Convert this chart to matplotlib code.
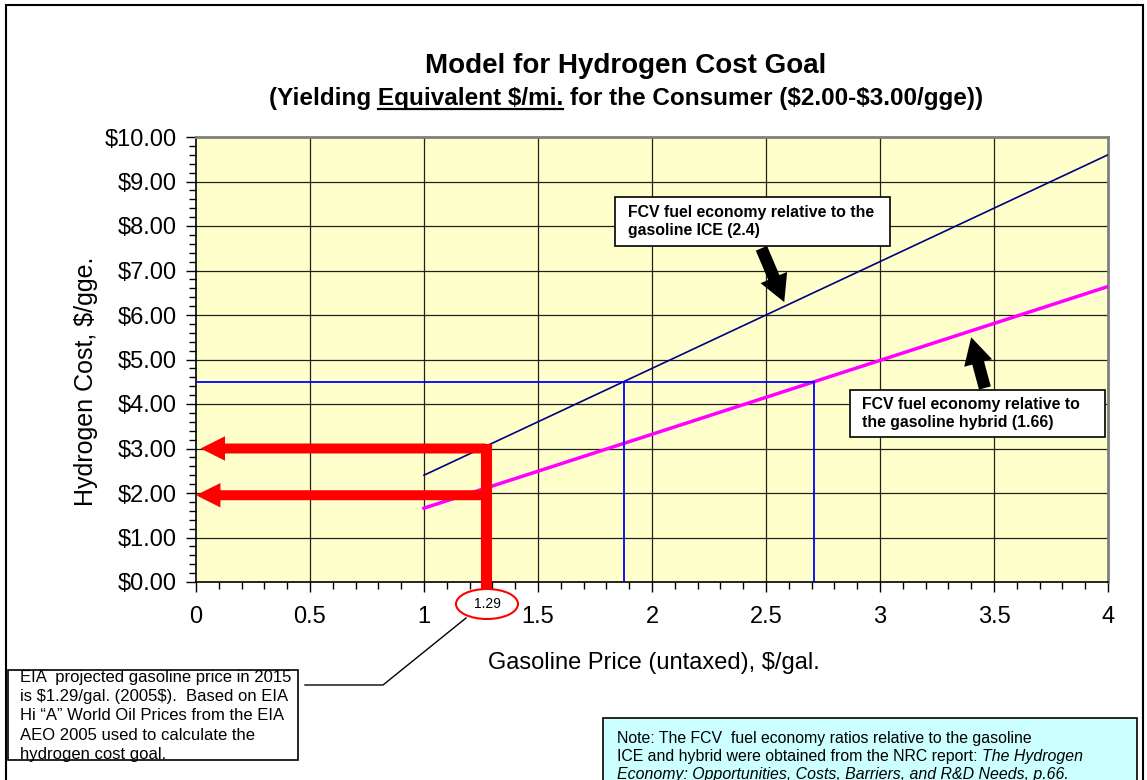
import numpy as np
import matplotlib
matplotlib.use("Agg")
import matplotlib.pyplot as plt
from matplotlib.patches import Ellipse, Rectangle
from matplotlib.lines import Line2D

plt.rcParams['font.family'] = ['Liberation Sans', 'DejaVu Sans']
plt.rcParams['text.parse_math'] = False

# data
gas_price = [1.0, 4.0]
ice_ratio = 2.4
hybrid_ratio = 1.66
h2_goal = 4.5                 # blue box level
eia_price = 1.27              # red vertical (labelled 1.29)
target_costs = [3.0, 1.95]    # red arrows
x_ticks = [0, 0.5, 1, 1.5, 2, 2.5, 3, 3.5, 4]
y_ticks = [0, 1, 2, 3, 4, 5, 6, 7, 8, 9, 10]

W, H = 1147, 780
fig = plt.figure(figsize=(W / 100, H / 100), dpi=100)


def fx(px):
    return px / W


def fy(py):
    return 1 - py / H


ax = fig.add_axes([fx(196), fy(582), fx(1108 - 196), (582 - 137) / H])
ax.set_facecolor('#FFFFCC')
ax.set_xlim(0, 4)
ax.set_ylim(0, 10)

# grid
for xv in x_ticks[1:-1]:
    ax.axvline(xv, color='#202020', lw=0.9, zorder=1)
for yv in y_ticks[1:-1]:
    ax.axhline(yv, color='#202020', lw=0.9, zorder=1)

ax.set_xticks(x_ticks)
ax.set_xticklabels([f"{v:g}" for v in x_ticks])
ax.set_yticks(y_ticks)
ax.set_yticklabels([f"${v:.2f}" for v in y_ticks])
ax.set_xticks(np.arange(0, 4.01, 0.1), minor=True)
ax.set_yticks(np.arange(0, 10.01, 0.2), minor=True)
ax.tick_params(which='major', direction='out', length=7, width=1, labelsize=17)
ax.tick_params(axis='x', which='major', pad=10)
ax.tick_params(axis='y', which='major', pad=7)
ax.tick_params(which='minor', direction='out', length=5, width=1)

for s in ['left', 'bottom']:
    ax.spines[s].set_color('black')
    ax.spines[s].set_linewidth(1.2)
for s in ['top', 'right']:
    ax.spines[s].set_color('#808080')
    ax.spines[s].set_linewidth(2)

ax.set_xlabel("Gasoline Price (untaxed), $/gal.", fontsize=17)
ax.set_ylabel("Hydrogen Cost, $/gge.", fontsize=18)
ax.xaxis.set_label_coords(0.502, -0.157)
ax.yaxis.set_label_coords(-0.108, 0.452)

# model lines
gp = np.array(gas_price)
ax.plot(gp, gp * ice_ratio, color='#000080', lw=1.2, zorder=3)
ax.plot(gp, gp * hybrid_ratio, color='#FF00FF', lw=2.5, zorder=3)

# blue goal lines
x_ice = h2_goal / ice_ratio
x_hyb = h2_goal / hybrid_ratio
ax.plot([0, x_hyb], [h2_goal, h2_goal], color='#0000FF', lw=1.3, zorder=3)
ax.plot([x_ice, x_ice], [0, h2_goal], color='#0000FF', lw=1.3, zorder=3)
ax.plot([x_hyb, x_hyb], [0, h2_goal], color='#0000FF', lw=1.3, zorder=3)

# red arrows
ax.plot([eia_price, eia_price], [-0.2, target_costs[0]], color='#FF0000', lw=8,
        solid_capstyle='projecting', clip_on=False, zorder=5)
for yc, tip in zip(target_costs, [0.02, 0.0]):
    ax.annotate('', xy=(tip, yc), xytext=(eia_price, yc),
                arrowprops=dict(arrowstyle='simple,head_length=1.1,head_width=1.1,tail_width=0.45',
                                fc='#FF0000', ec='none', mutation_scale=16,
                                shrinkA=0, shrinkB=0), zorder=5)

# callouts
ax.add_patch(Rectangle((1.838, 7.55), 3.044 - 1.838, 8.65 - 7.55, fc='white', ec='black',
                       lw=1.2, zorder=6, clip_on=False))
ax.text(1.895, 8.10, "FCV fuel economy relative to the\ngasoline ICE (2.4)",
        fontsize=11.4, fontweight='bold', va='center', ha='left', zorder=7, linespacing=1.3)
ax.annotate('', xy=(2.58, 6.29), xytext=(2.48, 7.5),
            arrowprops=dict(arrowstyle='simple,head_length=1.2,head_width=1.3,tail_width=0.55',
                            fc='black', ec='none', mutation_scale=16, shrinkA=0, shrinkB=0),
            zorder=6)
ax.add_patch(Rectangle((2.868, 3.26), 3.987 - 2.868, 4.31 - 3.26, fc='white', ec='black',
                       lw=1.2, zorder=6, clip_on=False))
ax.text(2.921, 3.79, "FCV fuel economy relative to\nthe gasoline hybrid (1.66)",
        fontsize=11.4, fontweight='bold', va='center', ha='left', zorder=7, linespacing=1.3)
ax.annotate('', xy=(3.40, 5.5), xytext=(3.46, 4.36),
            arrowprops=dict(arrowstyle='simple,head_length=1.2,head_width=1.3,tail_width=0.55',
                            fc='black', ec='none', mutation_scale=16, shrinkA=0, shrinkB=0),
            zorder=6)

# titles
title_x = fx(626)
fig.text(title_x, fy(66), "Model for Hydrogen Cost Goal", ha='center', va='center',
         fontsize=20, fontweight='bold')
sub = "(Yielding Equivalent $/mi. for the Consumer ($2.00-$3.00/gge))"
t_sub = fig.text(title_x, fy(105), sub, ha='center', va='baseline', fontsize=17.5,
                 fontweight='bold')
renderer = fig.canvas.get_renderer()


def text_w(s):
    tmp = fig.text(0, 0, s, fontsize=17.5, fontweight='bold')
    w = tmp.get_window_extent(renderer).width
    tmp.remove()
    return w


ext = t_sub.get_window_extent(renderer)
u0 = ext.x0 + text_w("(Yielding E") - text_w("E")
u1 = u0 + text_w("Equivalent $/mi.")
fig.add_artist(Line2D([u0 / W, u1 / W], [fy(108.5), fy(108.5)], color='black', lw=1.6))

# 1.29 ellipse and leader
fig.add_artist(Line2D([fx(466), fx(383), fx(305)], [fy(618), fy(685), fy(685)],
                      color='black', lw=1))
fig.add_artist(Ellipse((fx(487), fy(604)), 62 / W, 30 / H, transform=fig.transFigure,
                       fc='white', ec='#FF0000', lw=1.5, zorder=10))
fig.text(fx(487), fy(604), "1.29", ha='center', va='center', fontsize=10, zorder=11)

# EIA note
fig.add_artist(Rectangle((fx(8), fy(760)), fx(298 - 8), (760 - 670) / H,
                         transform=fig.transFigure, fc='white', ec='black', lw=1.2))
fig.text(fx(20), fy(716), "EIA  projected gasoline price in 2015\nis $1.29/gal. (2005$).  Based on EIA\n"
         "Hi \u201cA\u201d World Oil Prices from the EIA\nAEO 2005 used to calculate the\n"
         "hydrogen cost goal.", ha='left', va='center', fontsize=12, linespacing=1.35)

# NRC note
fig.add_artist(Rectangle((fx(603), fy(800)), fx(1137 - 603), (800 - 718) / H,
                         transform=fig.transFigure, fc='#CCFFFF', ec='black', lw=1.2))
fs = 11.4
fig.text(fx(617), fy(738), "Note: The FCV  fuel economy ratios relative to the gasoline",
         ha='left', va='center', fontsize=fs)
n2 = fig.text(fx(617), fy(756), "ICE and hybrid were obtained from the NRC report: ",
              ha='left', va='center', fontsize=fs)
fig.text(fx(617) + n2.get_window_extent(renderer).width / W, fy(756), "The Hydrogen",
         ha='left', va='center', fontsize=fs, style='italic')
fig.text(fx(617), fy(774), "Economy: Opportunities, Costs, Barriers, and R&D Needs, p.66.",
         ha='left', va='center', fontsize=fs, style='italic')

# outer frame
fig.add_artist(Rectangle((fx(6), fy(800)), fx(1143 - 6), (800 - 5) / H,
                         transform=fig.transFigure, fc='none', ec='black', lw=1.5))

fig.savefig("out.png", dpi=100)
